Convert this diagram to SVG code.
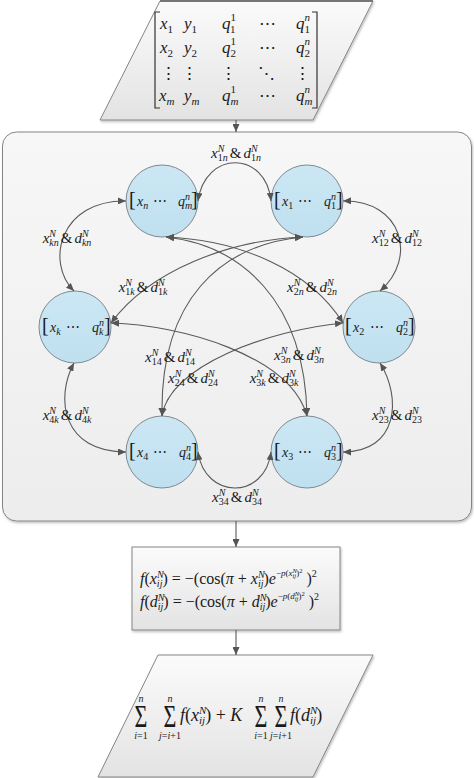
<svg xmlns="http://www.w3.org/2000/svg" width="474" height="778" viewBox="0 0 474 778">
<defs>
<linearGradient id="gp" x1="0" y1="0" x2="0" y2="1"><stop offset="0" stop-color="#fbfbfb"/><stop offset="1" stop-color="#e3e3e3"/></linearGradient>
<linearGradient id="gb" x1="0" y1="0" x2="0" y2="1"><stop offset="0" stop-color="#f7f7f7"/><stop offset="1" stop-color="#ededed"/></linearGradient>
<linearGradient id="gc" x1="0" y1="0" x2="0" y2="1"><stop offset="0" stop-color="#cce7f4"/><stop offset="1" stop-color="#bfe0f0"/></linearGradient>
<filter id="sh" x="-10%" y="-10%" width="120%" height="120%"><feDropShadow dx="1" dy="1.5" stdDeviation="1" flood-color="#000" flood-opacity="0.25"/></filter>
<marker id="ah" viewBox="0 0 8 7" refX="8" refY="3.5" markerWidth="8" markerHeight="7" markerUnits="userSpaceOnUse" orient="auto-start-reverse"><path d="M0,0 L8,3.5 L0,7 z" fill="#555"/></marker>
</defs>
<style>
text{font-family:"Liberation Serif","Times New Roman",serif;fill:#1a1a1a}
.i{font-style:italic}
.lb{font-size:15px;text-anchor:middle}
.sm{font-size:10px}
.xs{font-size:9px}
.xxs{font-size:6.5px}
.ct{font-size:14px}
.br{font-size:20px}
.mx{font-size:17px}
.ms{font-size:11px}
.fm{font-size:16px}
.fb{font-size:18px}
.fbs{font-size:11px}
.sig{font-size:26px;text-anchor:middle}
.lim{font-size:10px;text-anchor:middle}
.node{stroke:#858585;stroke-width:1}
.circ{fill:url(#gc);stroke:#7f8a90;stroke-width:1}
.con path{fill:none;stroke:#5a5a5a;stroke-width:1.1}
.arr{marker-end:url(#ah)}
.both{marker-start:url(#ah);marker-end:url(#ah)}
</style>

<g id="input">
<polygon class="node" points="160,1 373,1 313,120 100,120" fill="url(#gp)" filter="url(#sh)"/>
<line x1="160" y1="1" x2="373" y2="1" stroke="#777" stroke-width="2"/>
<polyline points="160,12 155,12 155,108 160,108" fill="none" stroke="#333" stroke-width="1.2"/>
<polyline points="312,12 317,12 317,108 312,108" fill="none" stroke="#333" stroke-width="1.2"/>
<text class="mx" y="29"><tspan x="160" class="i">x</tspan><tspan class="ms" dy="4">1</tspan><tspan x="184" class="i" dy="-4">y</tspan><tspan class="ms" dy="4">1</tspan><tspan x="222" class="i" dy="-4">q</tspan><tspan class="ms" dy="-8">1</tspan><tspan class="ms" dx="-5.5" dy="12">1</tspan><tspan x="259" dy="-4">⋯</tspan><tspan x="296" class="i">q</tspan><tspan class="ms i" dy="-8">n</tspan><tspan class="ms" dx="-5.5" dy="12">1</tspan></text>
<text class="mx" y="53"><tspan x="160" class="i">x</tspan><tspan class="ms" dy="4">2</tspan><tspan x="184" class="i" dy="-4">y</tspan><tspan class="ms" dy="4">2</tspan><tspan x="222" class="i" dy="-4">q</tspan><tspan class="ms" dy="-8">1</tspan><tspan class="ms" dx="-5.5" dy="12">2</tspan><tspan x="259" dy="-4">⋯</tspan><tspan x="296" class="i">q</tspan><tspan class="ms i" dy="-8">n</tspan><tspan class="ms" dx="-5.5" dy="12">2</tspan></text>
<text class="mx" y="79" text-anchor="middle"><tspan x="168">⋮</tspan><tspan x="189">⋮</tspan><tspan x="228">⋮</tspan><tspan x="266">⋱</tspan><tspan x="302">⋮</tspan></text>
<text class="mx" y="101"><tspan x="159" class="i">x</tspan><tspan class="ms i" dy="4">m</tspan><tspan x="184" class="i" dy="-4">y</tspan><tspan class="ms i" dy="4">m</tspan><tspan x="222" class="i" dy="-4">q</tspan><tspan class="ms" dy="-8">1</tspan><tspan class="ms i" dx="-5.5" dy="12">m</tspan><tspan x="259" dy="-4">⋯</tspan><tspan x="296" class="i">q</tspan><tspan class="ms i" dy="-8">n</tspan><tspan class="ms i" dx="-5.5" dy="12">m</tspan></text>
</g>

<g id="network">
<rect class="node" x="2.5" y="132" width="469" height="389" rx="14" fill="url(#gb)" filter="url(#sh)"/>
</g>

<g id="n-n">
<circle class="circ" cx="162" cy="201" r="36"/>
<text class="ct" y="206"><tspan x="129" class="br">[</tspan><tspan x="137" class="i">x</tspan><tspan class="sm i" dy="3">n</tspan><tspan x="153" dy="-3">⋯</tspan><tspan x="178" class="i">q</tspan><tspan class="sm i" dy="-6">n</tspan><tspan class="sm i" dx="-5" dy="9">m</tspan><tspan x="191" class="br" dy="-3">]</tspan></text>
</g>
<g id="n-1">
<circle class="circ" cx="307" cy="201" r="36"/>
<text class="ct" y="206"><tspan x="274" class="br">[</tspan><tspan x="282" class="i">x</tspan><tspan class="sm" dy="3">1</tspan><tspan x="298" dy="-3">⋯</tspan><tspan x="324" class="i">q</tspan><tspan class="sm i" dy="-6">n</tspan><tspan class="sm" dx="-5" dy="9">1</tspan><tspan x="336" class="br" dy="-3">]</tspan></text>
</g>
<g id="n-k">
<circle class="circ" cx="75" cy="327" r="36"/>
<text class="ct" y="332"><tspan x="42" class="br">[</tspan><tspan x="50" class="i">x</tspan><tspan class="sm i" dy="3">k</tspan><tspan x="66" dy="-3">⋯</tspan><tspan x="92" class="i">q</tspan><tspan class="sm i" dy="-6">n</tspan><tspan class="sm i" dx="-5" dy="9">k</tspan><tspan x="104" class="br" dy="-3">]</tspan></text>
</g>
<g id="n-2">
<circle class="circ" cx="379" cy="327" r="36"/>
<text class="ct" y="332"><tspan x="345" class="br">[</tspan><tspan x="353" class="i">x</tspan><tspan class="sm" dy="3">2</tspan><tspan x="370" dy="-3">⋯</tspan><tspan x="396" class="i">q</tspan><tspan class="sm i" dy="-6">n</tspan><tspan class="sm" dx="-5" dy="9">2</tspan><tspan x="408" class="br" dy="-3">]</tspan></text>
</g>
<g id="n-4">
<circle class="circ" cx="162" cy="452" r="36"/>
<text class="ct" y="457"><tspan x="129" class="br">[</tspan><tspan x="137" class="i">x</tspan><tspan class="sm" dy="3">4</tspan><tspan x="153" dy="-3">⋯</tspan><tspan x="179" class="i">q</tspan><tspan class="sm i" dy="-6">n</tspan><tspan class="sm" dx="-5" dy="9">4</tspan><tspan x="191" class="br" dy="-3">]</tspan></text>
</g>
<g id="n-3">
<circle class="circ" cx="307" cy="452" r="36"/>
<text class="ct" y="457"><tspan x="274" class="br">[</tspan><tspan x="282" class="i">x</tspan><tspan class="sm" dy="3">3</tspan><tspan x="298" dy="-3">⋯</tspan><tspan x="324" class="i">q</tspan><tspan class="sm i" dy="-6">n</tspan><tspan class="sm" dx="-5" dy="9">3</tspan><tspan x="336" class="br" dy="-3">]</tspan></text>
</g>

<g id="fitness">
<rect class="node" x="132" y="547" width="208" height="83" fill="url(#gp)" filter="url(#sh)"/>
<text class="fm" x="140" y="584"><tspan class="i">f</tspan>(<tspan class="i">x</tspan><tspan class="sm i" dy="-6">N</tspan><tspan class="sm i" dx="-6.7" dy="9">ij</tspan><tspan dy="-3">) = −(cos(</tspan><tspan class="i">π</tspan> + <tspan class="i">x</tspan><tspan class="sm i" dy="-6">N</tspan><tspan class="sm i" dx="-6.7" dy="9">ij</tspan><tspan dy="-3">)</tspan><tspan class="i">e</tspan><tspan class="xs" dy="-8">−<tspan class="i">p</tspan>(<tspan class="i">x</tspan></tspan><tspan class="xxs i" dy="-3">N</tspan><tspan class="xxs i" dx="-4.3" dy="5">ij</tspan><tspan class="xs" dy="-2">)</tspan><tspan class="xxs" dy="-3">2</tspan><tspan dy="11"> )</tspan><tspan class="sm" dy="-7">2</tspan></text>
<text class="fm" x="140" y="607"><tspan class="i">f</tspan>(<tspan class="i">d</tspan><tspan class="sm i" dy="-6">N</tspan><tspan class="sm i" dx="-6.7" dy="9">ij</tspan><tspan dy="-3">) = −(cos(</tspan><tspan class="i">π</tspan> + <tspan class="i">d</tspan><tspan class="sm i" dy="-6">N</tspan><tspan class="sm i" dx="-6.7" dy="9">ij</tspan><tspan dy="-3">)</tspan><tspan class="i">e</tspan><tspan class="xs" dy="-8">−<tspan class="i">p</tspan>(<tspan class="i">d</tspan></tspan><tspan class="xxs i" dy="-3">N</tspan><tspan class="xxs i" dx="-4.3" dy="5">ij</tspan><tspan class="xs" dy="-2">)</tspan><tspan class="xxs" dy="-3">2</tspan><tspan dy="11"> )</tspan><tspan class="sm" dy="-7">2</tspan></text>
</g>

<g id="objective">
<polygon class="node" points="158,655 373,655 313,777 98,777" fill="url(#gp)" filter="url(#sh)"/>
<text class="sig" transform="translate(141,727) scale(0.85,1.2)">Σ</text>
<text class="lim i" x="141" y="702">n</text>
<text class="lim" x="141" y="739"><tspan class="i">i</tspan>=1</text>
<text class="sig" transform="translate(170,727) scale(0.85,1.2)">Σ</text>
<text class="lim i" x="170" y="702">n</text>
<text class="lim" x="170" y="739"><tspan class="i">j</tspan>=<tspan class="i">i</tspan>+1</text>
<text class="fb" x="180" y="721"><tspan class="i">f</tspan>(<tspan class="i">x</tspan><tspan class="fbs i" dy="-7">N</tspan><tspan class="fbs i" dx="-7.3" dy="10">ij</tspan><tspan dy="-3">) + </tspan><tspan class="i">K</tspan></text>
<text class="sig" transform="translate(261,727) scale(0.85,1.2)">Σ</text>
<text class="lim i" x="261" y="702">n</text>
<text class="lim" x="261" y="739"><tspan class="i">i</tspan>=1</text>
<text class="sig" transform="translate(281,727) scale(0.85,1.2)">Σ</text>
<text class="lim i" x="281" y="702">n</text>
<text class="lim" x="281" y="739"><tspan class="i">j</tspan>=<tspan class="i">i</tspan>+1</text>
<text class="fb" x="290" y="721"><tspan class="i">f</tspan>(<tspan class="i">d</tspan><tspan class="fbs i" dy="-7">N</tspan><tspan class="fbs i" dx="-7.3" dy="10">ij</tspan><tspan dy="-3">)</tspan></text>
</g>

<g id="connectors" class="con">
<path class="arr" d="M236,120 V132"/>
<path class="arr" d="M236,521 V547"/>
<path class="arr" d="M236,630 V655"/>
<path class="both" d="M198,201 C205,150 266,150 271,201"/>
<path class="both" d="M126,201 C60,200 45,262 74,291"/>
<path class="both" d="M343,201 C402,200 418,258 380,291"/>
<path class="both" d="M74,363 C55,398 62,452 126,452"/>
<path class="both" d="M380,363 C402,398 398,452 343,452"/>
<path class="both" d="M198,452 C205,500 265,500 271,452"/>
<path class="both" d="M303,237 C230,240 150,270 111,323"/>
<path class="both" d="M166,237 C240,240 310,270 343,323"/>
<path class="both" d="M303,237 C220,245 160,300 162,416"/>
<path class="both" d="M166,237 C240,245 305,300 307,416"/>
<path class="both" d="M343,323 C270,330 170,365 162,416"/>
<path class="both" d="M111,323 C180,325 290,355 307,416"/>
</g>

<g id="labels">
<text class="lb" x="236" y="158"><tspan class="i">x</tspan><tspan class="sm i" dy="-6">N</tspan><tspan class="sm" dx="-6.7" dy="9">1<tspan class="i">n</tspan></tspan><tspan dx="2" dy="-3">&amp;</tspan><tspan class="i" dx="2">d</tspan><tspan class="sm i" dy="-6">N</tspan><tspan class="sm" dx="-6.7" dy="9">1<tspan class="i">n</tspan></tspan></text>
<text class="lb" x="67" y="243"><tspan class="i">x</tspan><tspan class="sm i" dy="-6">N</tspan><tspan class="sm i" dx="-6.7" dy="9">kn</tspan><tspan dx="2" dy="-3">&amp;</tspan><tspan class="i" dx="2">d</tspan><tspan class="sm i" dy="-6">N</tspan><tspan class="sm i" dx="-6.7" dy="9">kn</tspan></text>
<text class="lb" x="397" y="243"><tspan class="i">x</tspan><tspan class="sm i" dy="-6">N</tspan><tspan class="sm" dx="-6.7" dy="9">12</tspan><tspan dx="2" dy="-3">&amp;</tspan><tspan class="i" dx="2">d</tspan><tspan class="sm i" dy="-6">N</tspan><tspan class="sm" dx="-6.7" dy="9">12</tspan></text>
<text class="lb" x="143" y="292"><tspan class="i">x</tspan><tspan class="sm i" dy="-6">N</tspan><tspan class="sm" dx="-6.7" dy="9">1<tspan class="i">k</tspan></tspan><tspan dx="2" dy="-3">&amp;</tspan><tspan class="i" dx="2">d</tspan><tspan class="sm i" dy="-6">N</tspan><tspan class="sm" dx="-6.7" dy="9">1<tspan class="i">k</tspan></tspan></text>
<text class="lb" x="312" y="292"><tspan class="i">x</tspan><tspan class="sm i" dy="-6">N</tspan><tspan class="sm" dx="-6.7" dy="9">2<tspan class="i">n</tspan></tspan><tspan dx="2" dy="-3">&amp;</tspan><tspan class="i" dx="2">d</tspan><tspan class="sm i" dy="-6">N</tspan><tspan class="sm" dx="-6.7" dy="9">2<tspan class="i">n</tspan></tspan></text>
<text class="lb" x="170" y="362"><tspan class="i">x</tspan><tspan class="sm i" dy="-6">N</tspan><tspan class="sm" dx="-6.7" dy="9">14</tspan><tspan dx="2" dy="-3">&amp;</tspan><tspan class="i" dx="2">d</tspan><tspan class="sm i" dy="-6">N</tspan><tspan class="sm" dx="-6.7" dy="9">14</tspan></text>
<text class="lb" x="299" y="360"><tspan class="i">x</tspan><tspan class="sm i" dy="-6">N</tspan><tspan class="sm" dx="-6.7" dy="9">3<tspan class="i">n</tspan></tspan><tspan dx="2" dy="-3">&amp;</tspan><tspan class="i" dx="2">d</tspan><tspan class="sm i" dy="-6">N</tspan><tspan class="sm" dx="-6.7" dy="9">3<tspan class="i">n</tspan></tspan></text>
<text class="lb" x="193" y="383"><tspan class="i">x</tspan><tspan class="sm i" dy="-6">N</tspan><tspan class="sm" dx="-6.7" dy="9">24</tspan><tspan dx="2" dy="-3">&amp;</tspan><tspan class="i" dx="2">d</tspan><tspan class="sm i" dy="-6">N</tspan><tspan class="sm" dx="-6.7" dy="9">24</tspan></text>
<text class="lb" x="274" y="383"><tspan class="i">x</tspan><tspan class="sm i" dy="-6">N</tspan><tspan class="sm" dx="-6.7" dy="9">3<tspan class="i">k</tspan></tspan><tspan dx="2" dy="-3">&amp;</tspan><tspan class="i" dx="2">d</tspan><tspan class="sm i" dy="-6">N</tspan><tspan class="sm" dx="-6.7" dy="9">3<tspan class="i">k</tspan></tspan></text>
<text class="lb" x="67" y="420"><tspan class="i">x</tspan><tspan class="sm i" dy="-6">N</tspan><tspan class="sm" dx="-6.7" dy="9">4<tspan class="i">k</tspan></tspan><tspan dx="2" dy="-3">&amp;</tspan><tspan class="i" dx="2">d</tspan><tspan class="sm i" dy="-6">N</tspan><tspan class="sm" dx="-6.7" dy="9">4<tspan class="i">k</tspan></tspan></text>
<text class="lb" x="397" y="420"><tspan class="i">x</tspan><tspan class="sm i" dy="-6">N</tspan><tspan class="sm" dx="-6.7" dy="9">23</tspan><tspan dx="2" dy="-3">&amp;</tspan><tspan class="i" dx="2">d</tspan><tspan class="sm i" dy="-6">N</tspan><tspan class="sm" dx="-6.7" dy="9">23</tspan></text>
<text class="lb" x="237" y="502"><tspan class="i">x</tspan><tspan class="sm i" dy="-6">N</tspan><tspan class="sm" dx="-6.7" dy="9">34</tspan><tspan dx="2" dy="-3">&amp;</tspan><tspan class="i" dx="2">d</tspan><tspan class="sm i" dy="-6">N</tspan><tspan class="sm" dx="-6.7" dy="9">34</tspan></text>
</g>
</svg>
